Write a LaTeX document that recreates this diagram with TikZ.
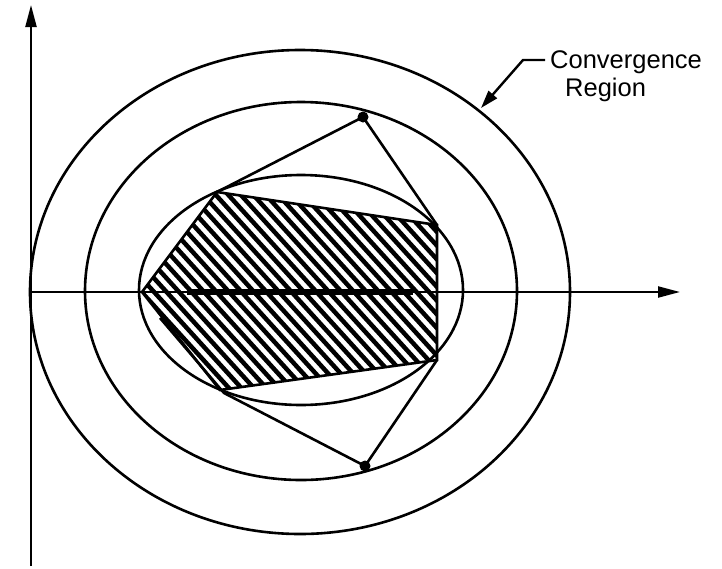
\documentclass[tikz,border=0pt]{standalone}
\usepackage{fontspec}
\setmainfont{Liberation Sans}
\usetikzlibrary{arrows.meta}
\begin{document}
\begin{tikzpicture}[x=1pt,y=-1pt,
  curve/.style={line width=2.6pt},
  axisline/.style={line width=2.2pt,-{Triangle[length=22pt,width=11pt]}},
  hatch/.style={line width=4.5pt},
  dot/.style={circle,fill=black,inner sep=0pt,minimum size=11pt},
  lbl/.style={anchor=base west,inner sep=0pt,font=\fontsize{25.5}{28}\selectfont}]
\useasboundingbox (0,0) rectangle (722,568);
% axes
\coordinate (O) at (31,292);
\coordinate (ybot) at (31,566);
\coordinate (ytop) at (31,5);
\coordinate (xend) at (680,292);
\draw[axisline] (ybot) -- (ytop);
\draw[axisline] (O) -- (xend);
% ellipses
\draw[curve] (300,292) ellipse [x radius=270pt, y radius=242pt];
\draw[curve] (301,291) ellipse [x radius=216pt, y radius=189pt];
\draw[curve] (301,290) ellipse [x radius=162pt, y radius=115pt];
% hatched polygon
\coordinate (A) at (142,292);
\coordinate (B) at (217,192);
\coordinate (C) at (437,225);
\coordinate (D) at (437,360);
\coordinate (E) at (220,390);
\begin{scope}
\clip (A) -- (B) -- (C) -- (D) -- (E) -- cycle;
\foreach \s in {-100,-87.5,...,440} \draw[hatch] (\s,150) -- ++(330,363);
\end{scope}
\draw[curve,line join=miter] (A) -- (B) -- (C) -- (D) -- (E) -- cycle;
% thick segment on axis
\coordinate (S1) at (187,292);
\coordinate (S2) at (413,292);
\draw[line width=6pt] (S1) -- (S2);
% dots and outer lines
\node[dot] (P) at (363,117) {};
\node[dot] (Q) at (365,466) {};
\coordinate (F) at (160,318);
\coordinate (G) at (224,393);
\draw[curve] (B) -- (P.center) -- (C);
\draw[curve] (D) -- (Q.center) -- (G) -- (F);
% label
\node[lbl] (t1) at (550,68) {Convergence};
\node[lbl] (t2) at (565,96) {Region};
\coordinate (L1) at (545,60);
\coordinate (L2) at (523,60);
\coordinate (L3) at (481,108);
\draw[line width=2.4pt,-{Triangle[length=18pt,width=11pt]}] (L1) -- (L2) -- (L3);
\end{tikzpicture}
\end{document}
